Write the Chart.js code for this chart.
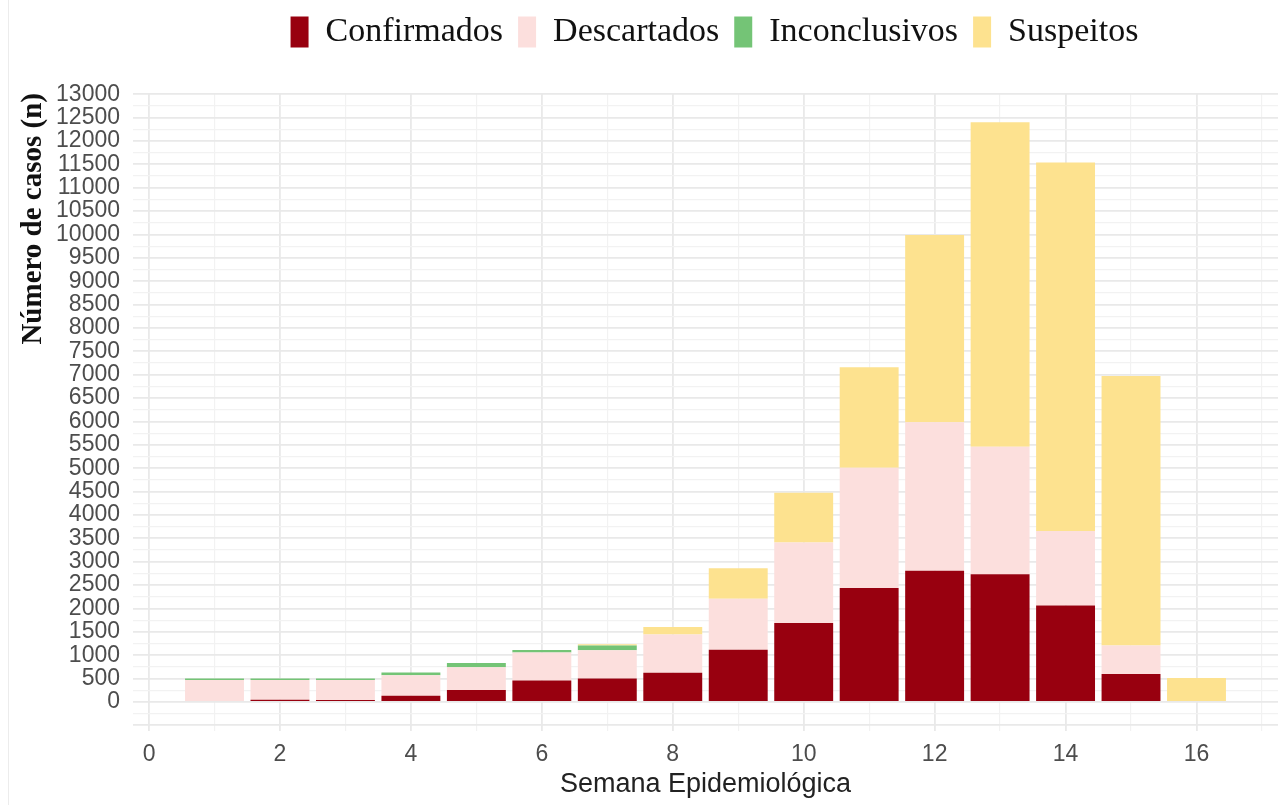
<!DOCTYPE html>
<html>
<head>
<meta charset="utf-8">
<script src="https://cdn.jsdelivr.net/npm/chart.js@4"></script>
<style>
    body { margin: 0; background: #fff; }
    #wrap { position: relative; width: 1282px; height: 805px; }
    #edge { position: absolute; left: 8px; top: 0; width: 1px; height: 805px; background: #ececec; }
</style>
</head>
<body>
<div id="wrap">
    <div id="edge"></div>
    <canvas id="casesChart"></canvas>
</div>
<script>
// Casos por semana epidemiológica, empilhados por status

const weeks = [1, 2, 3, 4, 5, 6, 7, 8, 9, 10, 11, 12, 13, 14, 15, 16];
const confirmados = [0, 50, 45, 134, 255, 460, 505, 625, 1120, 1690, 2440, 2805, 2735, 2065, 600, 0];
const descartados = [470, 420, 425, 440, 490, 600, 600, 820, 1090, 1720, 2570, 3180, 2725, 1590, 610, 0];
const inconclusivos = [35, 35, 35, 58, 92, 55, 105, 0, 0, 0, 0, 0, 0, 0, 0, 0];
const suspeitos = [0, 0, 0, 0, 0, 0, 25, 160, 650, 1065, 2150, 4005, 6940, 7885, 5760, 515];

const xTicks = [0, 1, 2, 3, 4, 5, 6, 7, 8, 9, 10, 11, 12, 13, 14, 15, 16, 17];
const yTicks = [];
for (let v = -500; v <= 13000; v += 250) yTicks.push(v);

function toPoints(values) {
    return weeks.map((w, i) => ({ x: w, y: values[i] }));
}

// extra room under the legend, and nudge it towards the panel centre
const legendSpacing = {
    id: 'legendSpacing',
    beforeInit(chart) {
        const fit = chart.legend.fit;
        chart.legend.fit = function () {
            fit.call(this);
            this.height += 34;
        };
    },
    afterLayout(chart) {
        chart.legend.left += 9;
        chart.legend.right += 9;
    }
};

const tickFont = { family: 'Liberation Sans', size: 23 };

new Chart(document.getElementById('casesChart'), {
    type: 'bar',
    data: {
        datasets: [
            { label: 'Confirmados', data: toPoints(confirmados), backgroundColor: '#98000f', stack: 's' },
            { label: 'Descartados', data: toPoints(descartados), backgroundColor: '#fcdfdd', stack: 's' },
            { label: 'Inconclusivos', data: toPoints(inconclusivos), backgroundColor: '#74c476', stack: 's' },
            { label: 'Suspeitos', data: toPoints(suspeitos), backgroundColor: '#fde28f', stack: 's' }
        ]
    },
    options: {
        responsive: true,
        maintainAspectRatio: false,
        animation: false,
        barPercentage: 0.9,
        categoryPercentage: 1,
        layout: { padding: { right: 4 } },
        plugins: {
            tooltip: { enabled: false },
            legend: {
                position: 'top',
                fullSize: false,
                labels: {
                    font: { family: 'Liberation Serif', size: 34 },
                    color: '#111',
                    boxWidth: 18,
                    boxHeight: 31,
                    padding: 15
                }
            }
        },
        scales: {
            x: {
                type: 'linear',
                min: -0.245,
                max: 17.245,
                offset: false,
                afterBuildTicks: scale => { scale.ticks = xTicks.map(v => ({ value: v })); },
                ticks: {
                    autoSkip: false,
                    maxRotation: 0,
                    padding: 10,
                    font: tickFont,
                    color: '#4d4d4d',
                    callback: v => (v % 2 === 0 && v <= 16 ? String(v) : '')
                },
                grid: {
                    offset: false,
                    drawTicks: false,
                    color: c => (c.tick && c.tick.value % 2 === 0 ? '#e9e9e9' : '#f2f2f2'),
                    lineWidth: c => (c.tick && c.tick.value % 2 === 0 ? 1.8 : 1.2)
                },
                border: { display: false },
                title: {
                    display: true,
                    text: 'Semana Epidemiológica',
                    font: { family: 'Liberation Sans', size: 27 },
                    color: '#222',
                    padding: { top: 0, bottom: 4 }
                },
                afterFit: scale => { scale.height = 74; }
            },
            y: {
                stacked: true,
                min: -620,
                max: 13025,
                afterBuildTicks: scale => { scale.ticks = yTicks.map(v => ({ value: v })); },
                ticks: {
                    autoSkip: false,
                    padding: 13,
                    font: tickFont,
                    color: '#4d4d4d',
                    callback: v => (v >= 0 && v % 500 === 0 ? String(v) : '')
                },
                grid: {
                    drawTicks: false,
                    color: c => (c.tick && c.tick.value % 500 === 0 ? '#e9e9e9' : '#f2f2f2'),
                    lineWidth: c => (c.tick && c.tick.value % 500 === 0 ? 1.8 : 1.2)
                },
                border: { display: false },
                title: {
                    display: true,
                    text: 'Número de casos (n)',
                    align: 'end',
                    font: { family: 'Liberation Serif', size: 29, weight: 'bold' },
                    color: '#111',
                    padding: { top: 16, bottom: 0 }
                },
                afterFit: scale => { scale.width = 133; }
            }
        }
    },
    plugins: [legendSpacing]
});
</script>
</body>
</html>
